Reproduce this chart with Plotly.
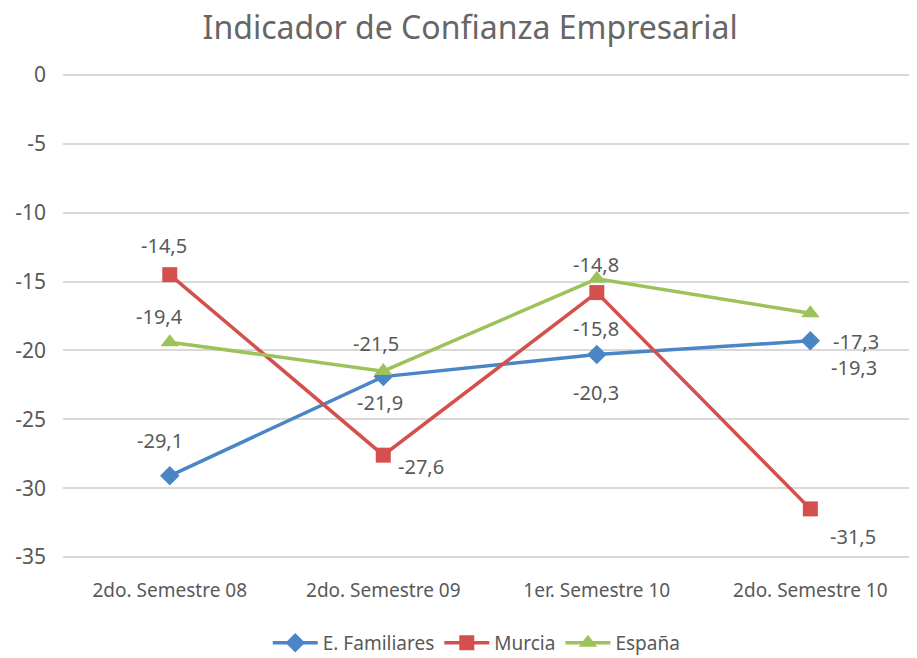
import plotly.graph_objects as go

categories = ["2do. Semestre 08", "2do. Semestre 09", "1er. Semestre 10", "2do. Semestre 10"]
familiares = [-29.1, -21.9, -20.3, -19.3]
murcia = [-14.5, -27.6, -15.8, -31.5]
espana = [-19.4, -21.5, -14.8, -17.3]
y_ticks = [0, -5, -10, -15, -20, -25, -30, -35]

# label pixel offsets (xshift, yshift) per point
fam_off = [(-10, 35), (-3, -26), (-1, -38), (44, -27)]
mur_off = [(-6, 29), (38, -11), (-1, -36), (43, -28)]
esp_off = [(-10, 26), (-7, 28), (-1, 14), (46, -28)]

FONT = "Noto Sans"
TXT = "#595959"
BLUE = "#4a86c6"
RED = "#d4504c"
GREEN = "#9bc35a"

fig = go.Figure()
fig.add_trace(go.Scatter(x=categories, y=familiares, name="E. Familiares", mode="lines+markers",
                         line=dict(color=BLUE, width=3.5), marker=dict(symbol="diamond", size=15, color=BLUE)))
fig.add_trace(go.Scatter(x=categories, y=murcia, name="Murcia", mode="lines+markers",
                         line=dict(color=RED, width=3.5), marker=dict(symbol="square", size=15, color=RED)))
fig.add_trace(go.Scatter(x=categories, y=espana, name="España", mode="lines+markers",
                         line=dict(color=GREEN, width=3.5), marker=dict(symbol="triangle-up", size=16, color=GREEN)))

def fmt(v):
    return f"{v:.1f}".replace(".", ",")

for vals, offs in ((familiares, fam_off), (murcia, mur_off), (espana, esp_off)):
    for c, v, (dx, dy) in zip(categories, vals, offs):
        fig.add_annotation(x=c, y=v, xref="x", yref="y", text=fmt(v), showarrow=False,
                           xshift=dx, yshift=dy, font=dict(family=FONT, size=20, color=TXT))

fig.update_layout(
    width=917, height=658,
    paper_bgcolor="white", plot_bgcolor="white",
    margin=dict(l=55, r=0, t=60, b=102),
    title=dict(text="Indicador de Confianza Empresarial", x=0.504, xanchor="center", y=1 - 20 / 658, yanchor="middle",
               font=dict(family=FONT, size=32, color="#666666")),
    showlegend=True,
    legend=dict(orientation="h", x=0.48, xanchor="center", y=-(635 - 556) / 496, yanchor="middle",
                font=dict(family=FONT, size=19, color=TXT), itemwidth=45),
    xaxis=dict(range=[-0.5, 3.537], showgrid=False, zeroline=False, showline=False, ticks="",
               ticklabelstandoff=13,
               tickfont=dict(family=FONT, size=19, color=TXT)),
    yaxis=dict(range=[-35.5, 0.5], tickvals=y_ticks, ticktext=[str(t) for t in y_ticks],
               showgrid=True, gridcolor="#d9d9d9", gridwidth=2, zeroline=False, showline=False,
               ticks="", ticklabelstandoff=16,
               tickfont=dict(family=FONT, size=21, color=TXT)),
)

fig.write_html("out.html")
